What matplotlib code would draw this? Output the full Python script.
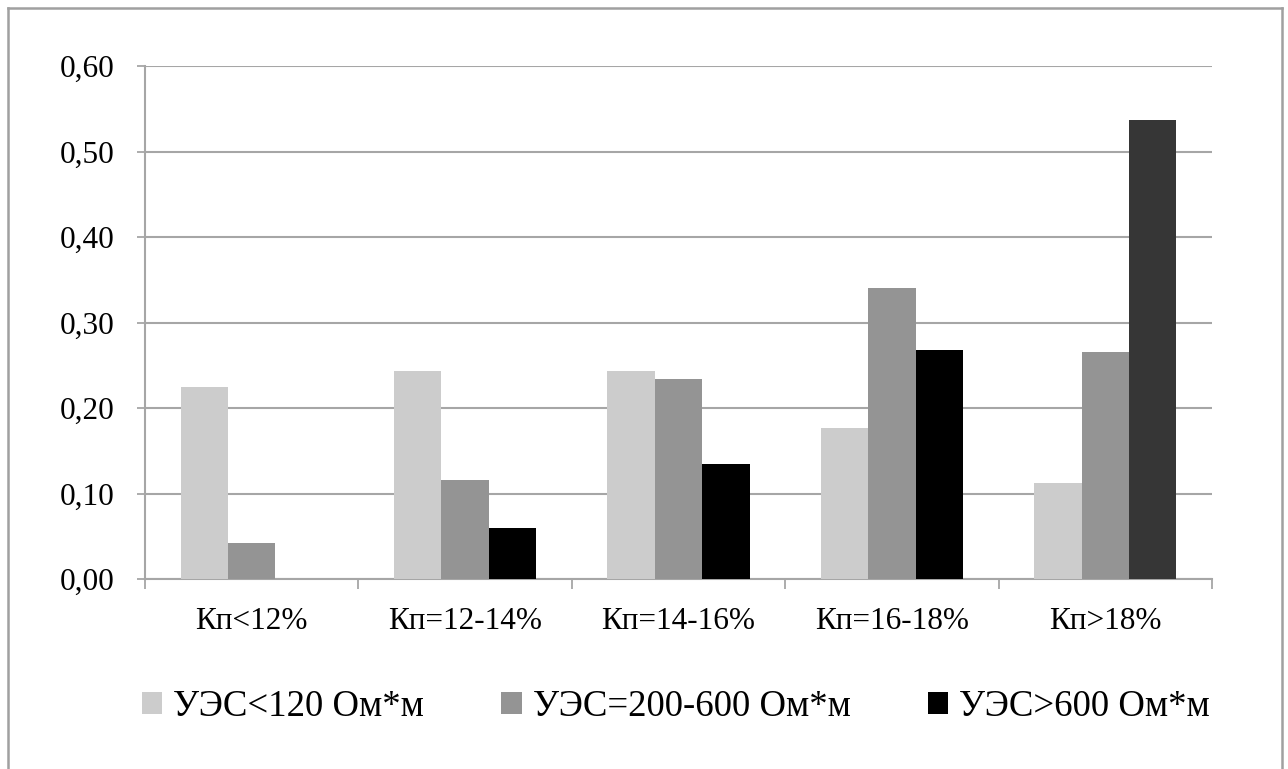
import matplotlib
matplotlib.use("Agg")
import matplotlib.pyplot as plt
from matplotlib.patches import Patch
from matplotlib.lines import Line2D
import numpy as np

categories = ["Кп<12%", "Кп=12-14%", "Кп=14-16%", "Кп=16-18%", "Кп>18%"]
series_names = ["УЭС<120 Ом*м", "УЭС=200-600 Ом*м", "УЭС>600 Ом*м"]
ues_low = [0.224, 0.243, 0.243, 0.177, 0.112]
ues_mid = [0.042, 0.116, 0.234, 0.340, 0.265]
ues_high = [0.0, 0.060, 0.134, 0.268, 0.537]
y_ticks = [0.0, 0.1, 0.2, 0.3, 0.4, 0.5, 0.6]
y_tick_labels = ["0,00", "0,10", "0,20", "0,30", "0,40", "0,50", "0,60"]

colors = ["#cccccc", "#949494", "#000000"]
high_colors = ["#000000", "#000000", "#000000", "#000000", "#363636"]

plt.rcParams['font.family'] = ['Liberation Serif', 'DejaVu Serif']

W, H = 1288, 769
fig = plt.figure(figsize=(W / 100, H / 100), dpi=100)
ax = fig.add_axes([145 / W, 1 - 579 / H, (1212 - 145) / W, (579 - 66) / H])

x = np.arange(len(categories))
w = 1 / 4.5
ax.bar(x - w, ues_low, w, color=colors[0], zorder=3)
ax.bar(x, ues_mid, w, color=colors[1], zorder=3)
ax.bar(x + w, ues_high, w, color=high_colors, zorder=3)

grid_c = "#a6a6a6"
ax.set_xlim(-0.5, len(categories) - 0.5)
ax.set_ylim(0, 0.6)
ax.set_yticks(y_ticks)
ax.set_yticklabels(y_tick_labels)
ax.yaxis.grid(True, color=grid_c, linewidth=1.5, zorder=0)
ax.set_axisbelow(True)

ax.set_xticks(x)
ax.set_xticklabels(categories)
ax.set_xticks(np.arange(-0.5, len(categories), 1.0), minor=True)
ax.tick_params(axis='x', which='major', length=0, pad=20, labelsize=22.5)
ax.tick_params(axis='x', which='minor', length=7, width=1.3, color=grid_c, direction='out')
ax.tick_params(axis='y', length=6, width=1.3, color=grid_c, pad=16, labelsize=22.5)

for s in ['top', 'right']:
    ax.spines[s].set_visible(False)
for s in ['left', 'bottom']:
    ax.spines[s].set_color(grid_c)
    ax.spines[s].set_linewidth(1.5)

handles = [Patch(facecolor=c, edgecolor='none') for c in colors]
fig.legend(handles, series_names, loc='center', ncol=3,
           bbox_to_anchor=(676 / W, 1 - 707 / H), frameon=False,
           fontsize=26.5, handlelength=0.55, handleheight=0.55,
           handletextpad=0.3, columnspacing=2.1)

border_c = "#a0a0a0"
fig.add_artist(Line2D([8 / W, 8 / W], [0, 1 - 8 / H], transform=fig.transFigure, color=border_c, linewidth=1.8))
fig.add_artist(Line2D([8 / W, 1282 / W], [1 - 8 / H, 1 - 8 / H], transform=fig.transFigure, color=border_c, linewidth=1.8))
fig.add_artist(Line2D([1282 / W, 1282 / W], [0, 1 - 8 / H], transform=fig.transFigure, color=border_c, linewidth=1.8))

fig.savefig("out.png", dpi=100, facecolor="white")
